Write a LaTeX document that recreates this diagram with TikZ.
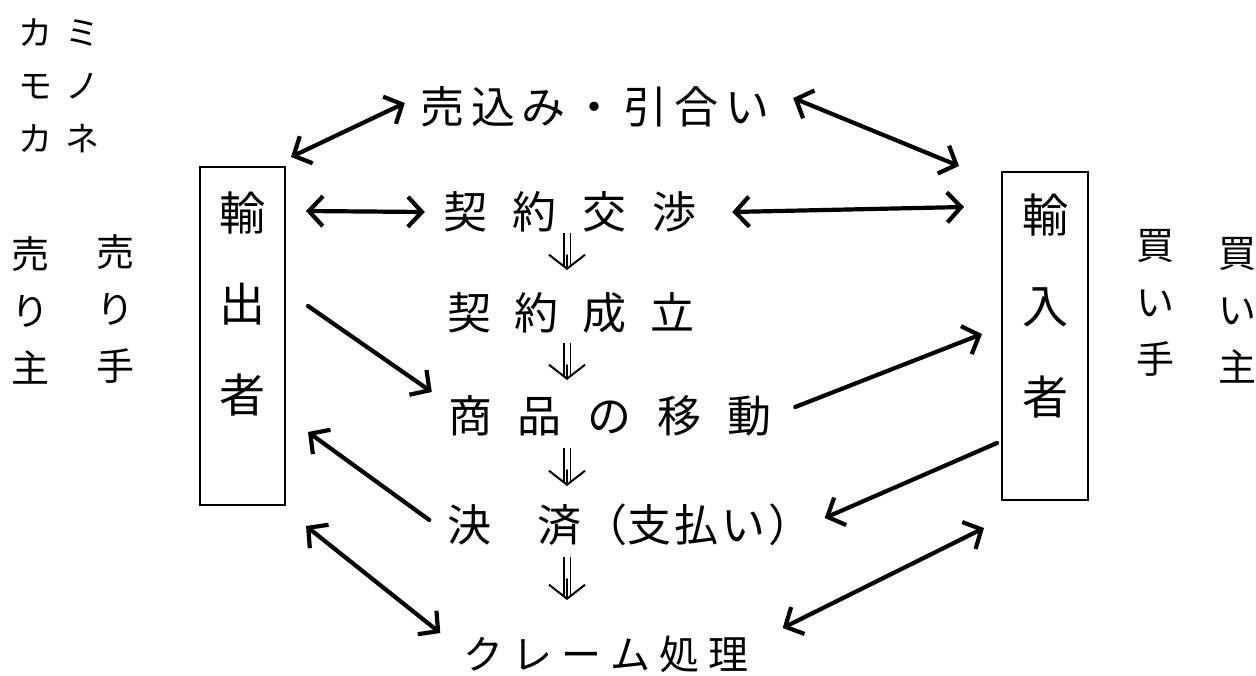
\documentclass[tikz,border=0pt]{standalone}
\usepackage{fontspec}
\setmainfont{Noto Sans CJK JP}
\usetikzlibrary{arrows.meta,calc}
\newcommand\jg[1]{\hspace{#1pt}}
\begin{document}
\begin{tikzpicture}[x=1pt,y=-1pt,
  >={Straight Barb[length=14pt,width=30pt]},
  lbl/.style={inner sep=0pt, font=\fontsize{44pt}{52pt}\selectfont},
  lblsm/.style={inner sep=0pt, font=\fontsize{40pt}{48pt}\selectfont},
  box/.style={draw, line width=2pt, inner sep=0pt},
  vtxt/.style={inner sep=0pt, align=center, font=\fontsize{46pt}{91pt}\selectfont},
  side/.style={inner sep=0pt, align=center, font=\fontsize{38pt}{57pt}\selectfont},
  kana/.style={inner sep=0pt, align=center, font=\fontsize{34pt}{53pt}\selectfont},
  arr/.style={line width=4.2pt, line cap=round},
  dbl/.style={line width=2pt, line cap=round, -{Straight Barb[length=14pt,width=36pt]}, shorten <=22pt,
    preaction={draw, -, double, double distance=5pt, line width=1.8pt, shorten <=0pt, shorten >=3pt}}
]
\fill[white] (0,0) rectangle (1256,675);
\useasboundingbox (0,0) rectangle (1256,675);

% left notes
\node[kana] (kmk) at (59,86) {カ\jg{14}ミ\\モ\jg{14}ノ\\カ\jg{14}ネ};
\node[side] (urinushi) at (31,310) {売\\り\\主};
\node[side] (urite) at (115,309) {売\\り\\手};
\node[side] (kaite) at (1155,303) {買\\い\\手};
\node[side] (kainushi) at (1237,310) {買\\い\\主};

% boxes
\node[box, minimum width=85pt, minimum height=338pt] (exp) at (242.5,336) {};
\node[vtxt] (expt) at (242,304) {輸\\出\\者};
\node[box, minimum width=86pt, minimum height=328pt] (imp) at (1045,336) {};
\node[vtxt] (impt) at (1045,306) {輸\\入\\者};

% center steps
\node[lbl] (t1) at (595,107) {売\jg{7}込\jg{7}み\jg{7}・\jg{7}引\jg{7}合\jg{7}い};
\node[lbl] (t2) at (570,212) {契\jg{26}約\jg{26}交\jg{26}渉};
\node[lbl] (t3) at (571,313) {契\jg{24}約\jg{24}成\jg{24}立};
\node[lbl] (t4) at (610,416) {商\jg{26}品\jg{26}の\jg{26}移\jg{26}動};
\node[lbl] (t5) at (630,525) {決\jg{46}済\jg{2}（支\jg{3}払\jg{3}い\jg{3}）};
\node[lblsm] (t6) at (606,654) {ク\jg{9}レ\jg{9}ー\jg{9}ム\jg{9}処\jg{9}理};

% double arrows
\draw[dbl] ($(t2.center)+(-3,21)$) -- ($(t3.center)+(-4,-43)$);
\draw[dbl] ($(t3.center)+(-4,30)$) -- ($(t4.center)+(-43,-36)$);
\draw[dbl] ($(t4.center)+(-43,32)$) -- ($(t5.center)+(-63,-39)$);
\draw[dbl] ($(t5.center)+(-63,32)$) -- ($(t6.center)+(-39,-54)$);

% arrows
\draw[arr,<->] ($(exp.north east)+(5,-9)$) -- ($(t1.west)+(-15,-4)$);
\draw[arr,<->] ($(t1.east)+(23,-9)$) -- ($(imp.north west)+(-42,-5)$);
\draw[arr,<->] ($(exp.north east)+(20,45)$) -- ($(t2.west)+(-18,0)$);
\draw[arr,<->] ($(t2.east)+(35,0)$) -- ($(imp.north west)+(-37,36)$);
\draw[arr,->] ($(exp.north east)+(22,140)$) -- ($(t4.west)+(-16,-24)$);
\draw[arr,->] ($(t4.east)+(23,-9)$) -- ($(imp.north west)+(-19,163)$);
\draw[arr,->] ($(t5.west)+(-18,-5)$) -- ($(exp.north east)+(22,266)$);
\draw[arr,->] ($(imp.north west)+(-4,272)$) -- ($(t5.east)+(12,-7)$);
\draw[arr,<->] ($(exp.south east)+(20,20)$) -- ($(t6.west)+(-23,-21)$);
\draw[arr,<->] ($(t6.east)+(34,-26)$) -- ($(imp.south west)+(-17,27)$);
\end{tikzpicture}
\end{document}
